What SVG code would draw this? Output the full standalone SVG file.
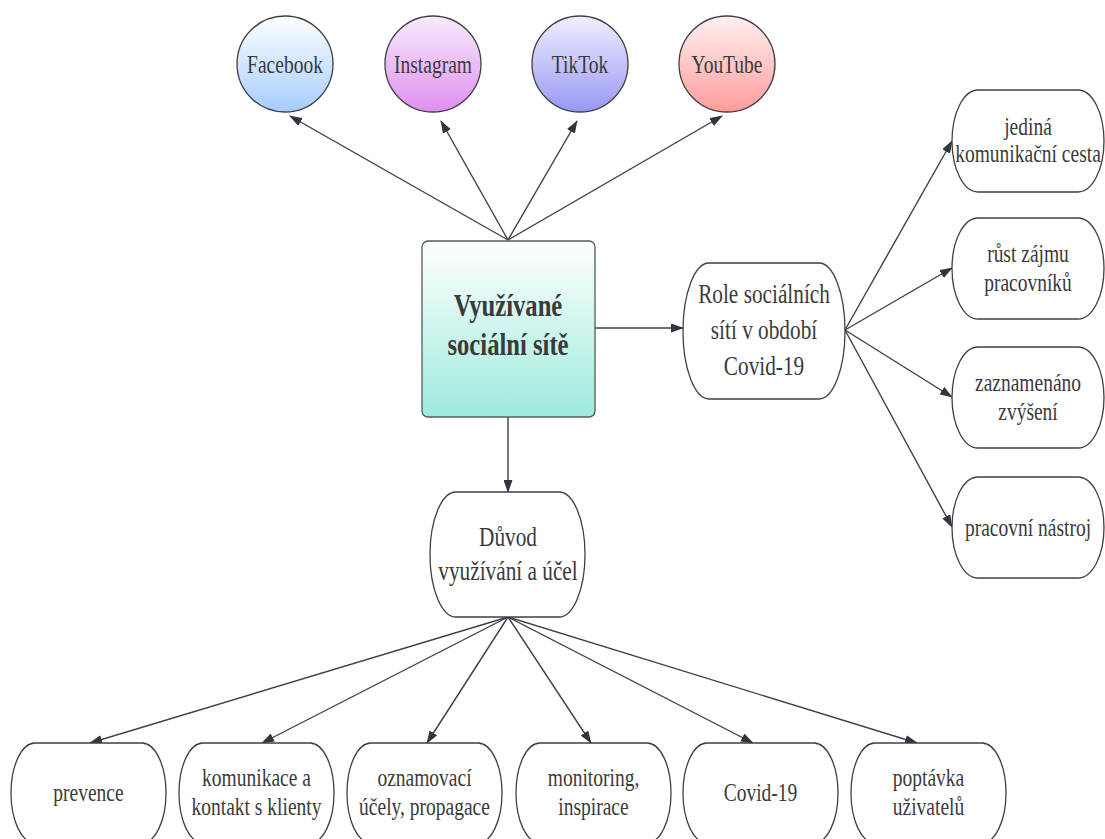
<svg xmlns="http://www.w3.org/2000/svg" width="1105" height="839" viewBox="0 0 1105 839">
<style>
.t{font-family:"Liberation Serif","Times New Roman",serif;fill:#3a3a3a;text-anchor:middle;font-size:26px}
.tb{font-size:32px;font-weight:bold}
.tm{font-size:28px}
.sh{stroke:#404040;stroke-width:1.3;fill:#ffffff}
.c{stroke:#3a414a;stroke-width:1.4;fill:none;marker-end:url(#ah)}
</style>
<defs>
<marker id="ah" viewBox="0 0 13 9" refX="12" refY="4.5" markerWidth="13" markerHeight="9" markerUnits="userSpaceOnUse" orient="auto">
<path d="M0,0 L13,4.5 L0,9 Z" fill="#2f3640"/>
</marker>
<linearGradient id="gFb" x1="0" y1="0" x2="0" y2="1"><stop offset="0" stop-color="#ffffff"/><stop offset="1" stop-color="#a6ccff"/></linearGradient>
<linearGradient id="gIg" x1="0" y1="0" x2="0" y2="1"><stop offset="0" stop-color="#f8ecfb"/><stop offset="1" stop-color="#df8ff0"/></linearGradient>
<linearGradient id="gTt" x1="0" y1="0" x2="0" y2="1"><stop offset="0" stop-color="#efefff"/><stop offset="1" stop-color="#9898f6"/></linearGradient>
<linearGradient id="gYt" x1="0" y1="0" x2="0" y2="1"><stop offset="0" stop-color="#fff0f0"/><stop offset="1" stop-color="#ff9c9c"/></linearGradient>
<linearGradient id="gMain" x1="0" y1="0" x2="0" y2="1"><stop offset="0" stop-color="#ffffff"/><stop offset="1" stop-color="#9debdc"/></linearGradient>
</defs>

<g id="connectors">
<line class="c" x1="508" y1="240" x2="290" y2="116"/>
<line class="c" x1="508" y1="240" x2="441" y2="121"/>
<line class="c" x1="508" y1="240" x2="577" y2="121"/>
<line class="c" x1="508" y1="240" x2="722" y2="116"/>
<line class="c" x1="595" y1="328" x2="683" y2="328"/>
<line class="c" x1="508" y1="417" x2="508" y2="492"/>
<line class="c" x1="845" y1="330" x2="952" y2="141"/>
<line class="c" x1="845" y1="330" x2="952" y2="268"/>
<line class="c" x1="845" y1="330" x2="952" y2="397"/>
<line class="c" x1="845" y1="330" x2="952" y2="527"/>
<line class="c" x1="508" y1="617" x2="90" y2="743"/>
<line class="c" x1="508" y1="617" x2="262" y2="743"/>
<line class="c" x1="508" y1="617" x2="427" y2="743"/>
<line class="c" x1="508" y1="617" x2="591" y2="743"/>
<line class="c" x1="508" y1="617" x2="753" y2="743"/>
<line class="c" x1="508" y1="617" x2="917" y2="743"/>
</g>

<g id="facebook"><circle class="sh" cx="285" cy="64" r="48" style="fill:url(#gFb)"/><text class="t" transform="translate(285,73) scale(0.75,1)">Facebook</text></g>
<g id="instagram"><circle class="sh" cx="433" cy="64" r="48" style="fill:url(#gIg)"/><text class="t" transform="translate(433,73) scale(0.75,1)">Instagram</text></g>
<g id="tiktok"><circle class="sh" cx="580" cy="64" r="48" style="fill:url(#gTt)"/><text class="t" transform="translate(580,73) scale(0.75,1)">TikTok</text></g>
<g id="youtube"><circle class="sh" cx="727" cy="64" r="48" style="fill:url(#gYt)"/><text class="t" transform="translate(727,73) scale(0.75,1)">YouTube</text></g>

<g id="main"><rect x="422" y="241" width="173" height="176" rx="6" style="fill:url(#gMain);stroke:#55595f;stroke-width:1.3"/>
<text class="t tb" transform="translate(508,316) scale(0.77,1)">Využívané</text>
<text class="t tb" transform="translate(508,355) scale(0.77,1)">sociální sítě</text></g>

<g id="role"><rect class="sh" x="683" y="263" width="162" height="136" rx="26" ry="68"/>
<text class="t tm" transform="translate(764,303) scale(0.76,1)">Role sociálních</text>
<text class="t tm" transform="translate(764,339) scale(0.76,1)">sítí v období</text>
<text class="t tm" transform="translate(764,375) scale(0.76,1)">Covid-19</text></g>

<g id="jedina"><rect class="sh" x="952" y="90" width="152" height="102" rx="26" ry="51"/>
<text class="t" transform="translate(1028,135) scale(0.75,1)">jediná</text>
<text class="t" transform="translate(1028,162) scale(0.75,1)">komunikační cesta</text></g>

<g id="rust"><rect class="sh" x="952" y="218" width="152" height="101" rx="26" ry="50.5"/>
<text class="t" transform="translate(1028,262) scale(0.75,1)">růst zájmu</text>
<text class="t" transform="translate(1028,291) scale(0.75,1)">pracovníků</text></g>

<g id="zaznamenano"><rect class="sh" x="952" y="347" width="152" height="101" rx="26" ry="50.5"/>
<text class="t" transform="translate(1028,391) scale(0.75,1)">zaznamenáno</text>
<text class="t" transform="translate(1028,420) scale(0.75,1)">zvýšení</text></g>

<g id="nastroj"><rect class="sh" x="952" y="477" width="152" height="101" rx="26" ry="50.5"/>
<text class="t" transform="translate(1028,536) scale(0.75,1)">pracovní nástroj</text></g>

<g id="duvod"><rect class="sh" x="430" y="492" width="155" height="125" rx="26" ry="62.5"/>
<text class="t tm" transform="translate(508,546) scale(0.76,1)">Důvod</text>
<text class="t tm" transform="translate(508,580) scale(0.76,1)">využívání a účel</text></g>

<g id="prevence"><rect class="sh" x="11" y="743" width="155" height="100" rx="24" ry="50"/>
<text class="t" transform="translate(88.5,801) scale(0.75,1)">prevence</text></g>

<g id="komunikace"><rect class="sh" x="179" y="743" width="155" height="100" rx="24" ry="50"/>
<text class="t" transform="translate(256.5,786) scale(0.75,1)">komunikace a</text>
<text class="t" transform="translate(256.5,815) scale(0.75,1)">kontakt s klienty</text></g>

<g id="oznamovaci"><rect class="sh" x="347" y="743" width="155" height="100" rx="24" ry="50"/>
<text class="t" transform="translate(424.5,786) scale(0.75,1)">oznamovací</text>
<text class="t" transform="translate(424.5,815) scale(0.75,1)">účely, propagace</text></g>

<g id="monitoring"><rect class="sh" x="516" y="743" width="155" height="100" rx="24" ry="50"/>
<text class="t" transform="translate(593.5,786) scale(0.75,1)">monitoring,</text>
<text class="t" transform="translate(593.5,815) scale(0.75,1)">inspirace</text></g>

<g id="covid"><rect class="sh" x="683" y="743" width="155" height="100" rx="24" ry="50"/>
<text class="t" transform="translate(760.5,801) scale(0.75,1)">Covid-19</text></g>

<g id="poptavka"><rect class="sh" x="851" y="743" width="155" height="100" rx="24" ry="50"/>
<text class="t" transform="translate(928.5,786) scale(0.75,1)">poptávka</text>
<text class="t" transform="translate(928.5,815) scale(0.75,1)">uživatelů</text></g>
</svg>
